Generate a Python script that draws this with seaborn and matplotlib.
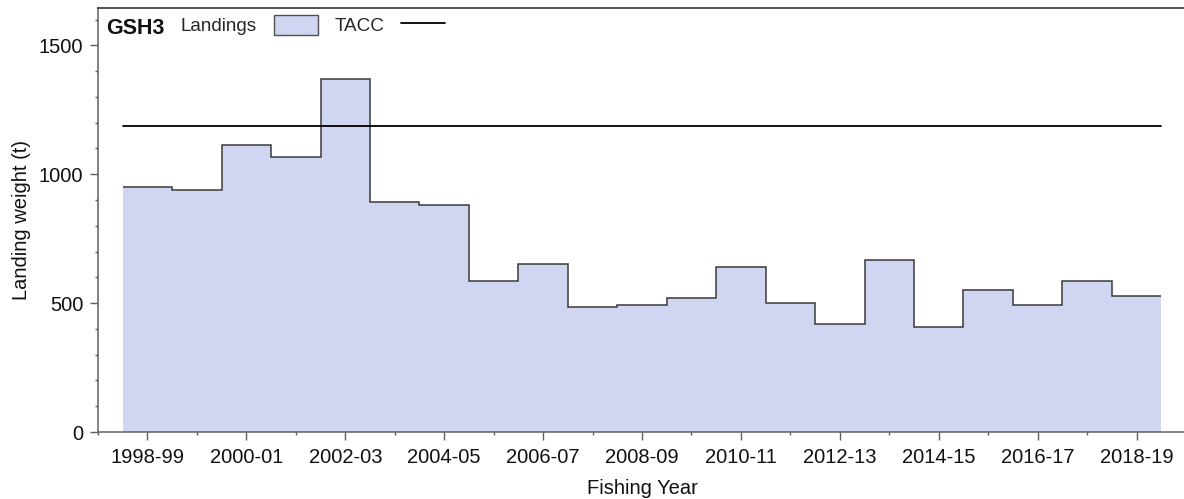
import numpy as np
import pandas as pd
import matplotlib
matplotlib.use("Agg")
import matplotlib.pyplot as plt
from matplotlib.patches import Patch
from matplotlib.lines import Line2D
from matplotlib.ticker import MultipleLocator
import seaborn as sns

# Fishing years and landed catch (t)
years = ["1998-99", "1999-00", "2000-01", "2001-02", "2002-03", "2003-04",
         "2004-05", "2005-06", "2006-07", "2007-08", "2008-09", "2009-10",
         "2010-11", "2011-12", "2012-13", "2013-14", "2014-15", "2015-16",
         "2016-17", "2017-18", "2018-19"]
landings = [949, 937, 1112, 1068, 1369, 893, 882, 587, 653, 486, 491, 520,
            640, 499, 419, 667, 408, 550, 494, 586, 528]
tacc = 1188
stock = "GSH3"

fill_color = "#d0d6f1"
step_color = "#3a3a3a"
axis_color = "#606060"
fs = 14.5

sns.set_theme(style="ticks")
plt.rcParams["font.family"] = ["Liberation Sans", "DejaVu Sans"]

fig = plt.figure(figsize=(11.84, 4.99), dpi=100)
ax = fig.add_axes([98 / 1184, 67 / 499, 1088 / 1184, 424 / 499])

idx = np.arange(len(years))
edges = np.arange(len(years) + 1) - 0.5
df = pd.DataFrame({"year": years, "pos": idx, "landings": landings})

# filled landings: one full-width block per fishing year
ax.stairs(df["landings"], edges, baseline=0, fill=True, color=fill_color,
          linewidth=0, zorder=1)
# step outline along the top of the landings
ax.stairs(df["landings"], edges, baseline=None, fill=False, color=step_color,
          linewidth=1.1, zorder=2)
# TACC across the full span of fishing years
tacc_df = pd.DataFrame({"pos": edges[[0, -1]], "tacc": [tacc, tacc]})
sns.lineplot(data=tacc_df, x="pos", y="tacc", color="black", linewidth=1.3,
             ax=ax, zorder=3)

ax.set_xlim(-1, 21)
ax.set_ylim(0, 1645)

ax.set_xticks(idx[::2])
ax.set_xticklabels(years[::2])
ax.xaxis.set_minor_locator(MultipleLocator(1))
ax.yaxis.set_major_locator(MultipleLocator(500))
ax.yaxis.set_minor_locator(MultipleLocator(100))

ax.tick_params(axis="both", which="major", length=5.5, width=1, color=axis_color,
               labelsize=fs, labelcolor="#111111")
ax.tick_params(axis="both", which="minor", length=2.5, width=1, color=axis_color)
ax.tick_params(axis="y", which="major", pad=5)
ax.tick_params(axis="x", which="major", pad=6)

ax.set_xlabel("Fishing Year", fontsize=fs, color="#111111", labelpad=9)
ax.set_ylabel("Landing weight (t)", fontsize=fs, color="#111111", labelpad=5.5)

for side in ("left", "bottom"):
    ax.spines[side].set_color(axis_color)
    ax.spines[side].set_linewidth(1.1)
ax.spines["top"].set_visible(True)
ax.spines["top"].set_color("#222222")
ax.spines["top"].set_linewidth(1.1)
ax.spines["right"].set_visible(False)

fig.text(106 / 1184, 1 - 28 / 499, stock, fontsize=15.5, fontweight="bold",
         va="center", ha="left", color="#111111")

handles = [Patch(facecolor=fill_color, edgecolor="#505050", linewidth=1),
           Line2D([], [], color="black", linewidth=1.3)]
fig.legend(handles, ["Landings", "TACC"], ncol=2, markerfirst=False,
           frameon=False, loc="upper left",
           bbox_to_anchor=(181 / 1184, 1 - 15 / 499), borderpad=0,
           borderaxespad=0, handlelength=2.3, handleheight=1.25,
           handletextpad=0.9, columnspacing=0.9, fontsize=13.6)

fig.savefig("out.png", dpi=100)
